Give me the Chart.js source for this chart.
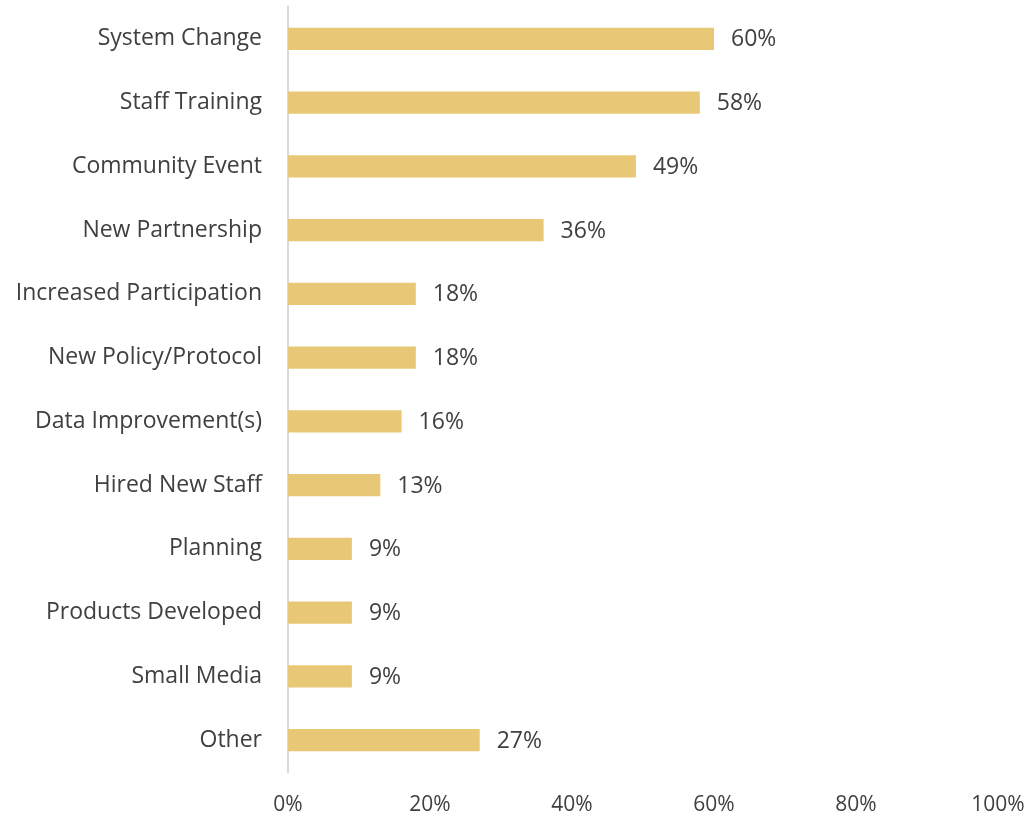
<!DOCTYPE html>
<html>
<head>
<meta charset="utf-8">
<script src="https://cdn.jsdelivr.net/npm/chart.js@4.4.1/dist/chart.umd.min.js"></script>
<style>
  html, body { margin: 0; padding: 0; background: #ffffff; }
  #wrap { width: 1031px; height: 816px; }
</style>
</head>
<body>
<div id="wrap"><canvas id="chart" width="1031" height="816"></canvas></div>
<script>
// Outcome categories, top to bottom
const categories = [
  'System Change', 'Staff Training', 'Community Event', 'New Partnership',
  'Increased Participation', 'New Policy/Protocol', 'Data Improvement(s)',
  'Hired New Staff', 'Planning', 'Products Developed', 'Small Media', 'Other'
];
// Share of respondents reporting each outcome (%)
const percentages = [60, 58, 49, 36, 18, 18, 16, 13, 9, 9, 9, 27];
// Horizontal axis ticks (%)
const xTicks = [0, 20, 40, 60, 80, 100];

const FONT = '"Open Sans", "Noto Sans", sans-serif';
const TEXT = '#404040';

// Writes the value to the right of each bar
const valueLabels = {
  id: 'valueLabels',
  afterDatasetsDraw(chart) {
    const ctx = chart.ctx;
    const meta = chart.getDatasetMeta(0);
    ctx.save();
    ctx.font = '23px ' + FONT;
    ctx.fillStyle = TEXT;
    ctx.textAlign = 'left';
    ctx.textBaseline = 'middle';
    meta.data.forEach((bar, i) => {
      ctx.fillText(percentages[i] + '%', bar.x + 17, bar.y + 1);
    });
    ctx.restore();
  }
};

new Chart(document.getElementById('chart'), {
  type: 'bar',
  data: {
    labels: categories,
    datasets: [{
      data: percentages,
      backgroundColor: '#E8C776',
      borderWidth: 0,
      categoryPercentage: 1,
      barPercentage: 0.35
    }]
  },
  options: {
    indexAxis: 'y',
    responsive: false,
    animation: false,
    layout: { padding: { top: 7, right: 33, bottom: 0, left: 0 } },
    plugins: { legend: { display: false }, tooltip: { enabled: false } },
    scales: {
      x: {
        min: 0,
        max: 100,
        afterBuildTicks(axis) { axis.ticks = xTicks.map(v => ({ value: v })); },
        afterFit(axis) {
          axis.height = 44;
          axis.paddingLeft = 0;
          axis.paddingRight = 0;
        },
        grid: { display: false, drawTicks: false },
        border: { display: false },
        ticks: {
          padding: 20,
          color: TEXT,
          font: { family: FONT, size: 21 },
          callback: v => v + '%'
        }
      },
      y: {
        afterFit(axis) {
          axis.width = 288;
          axis.paddingTop = 0;
          axis.paddingBottom = 0;
        },
        grid: { display: false, drawTicks: false },
        border: { display: true, color: '#D9D9D9', width: 2 },
        ticks: {
          padding: 26,
          color: TEXT,
          font: { family: FONT, size: 23 }
        }
      }
    }
  },
  plugins: [valueLabels]
});
</script>
</body>
</html>
